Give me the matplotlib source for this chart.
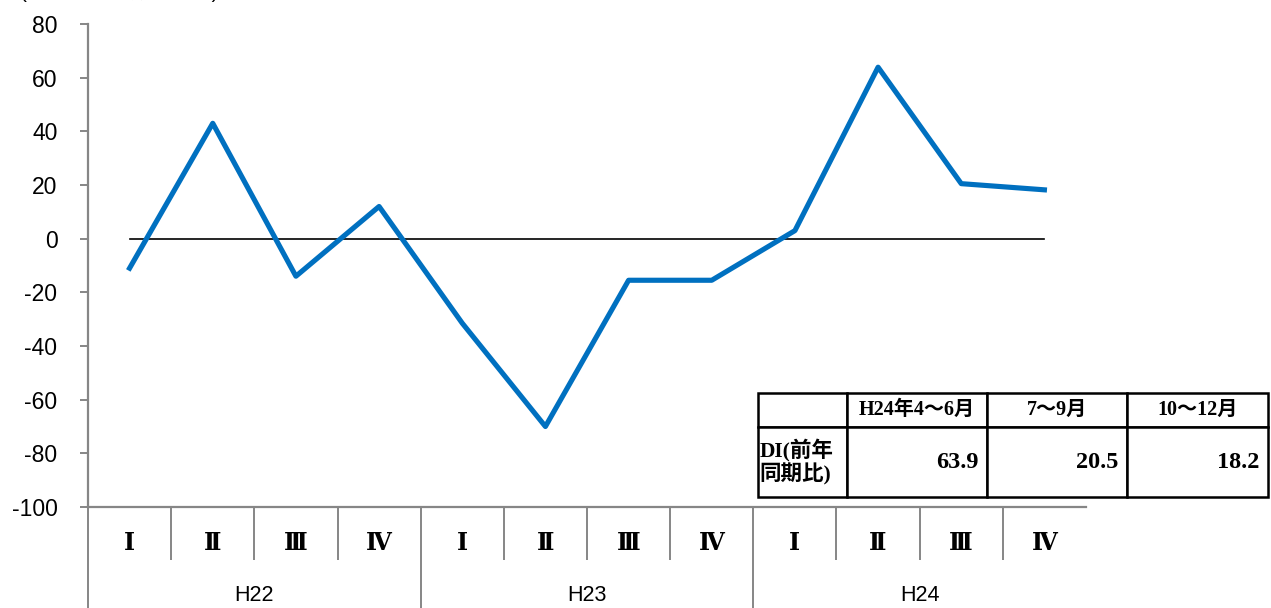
"""
Quarterly DI (year-on-year) line chart with a two-level category axis
(quarters / fiscal years) and a small summary table in the lower right.
"""

import matplotlib
matplotlib.use("Agg")
import matplotlib.pyplot as plt
from matplotlib.table import Table

# ---------------------------------------------------------------------------
# Data
# ---------------------------------------------------------------------------
quarters = ["Ⅰ", "Ⅱ", "Ⅲ", "Ⅳ"] * 3
years = ["H22", "H23", "H24"]
di_values = [-11.0, 43.0, -14.0, 12.0, -31.5, -70.0, -15.5, -15.5, 3.0, 63.9, 20.5, 18.2]

table_header = ["", "H24年4～6月", "7～9月", "10～12月"]
table_row_label = "DI(前年\n同期比)"
table_values = ["63.9", "20.5", "18.2"]

unit_label = "(DI、前年同期比、%)"

# ---------------------------------------------------------------------------
# Styling
# ---------------------------------------------------------------------------
LINE_BLUE = "#0070C0"
AXIS_GRAY = "#868686"
W, H = 1271, 608

plt.rcParams["font.family"] = ["Liberation Sans", "Noto Sans CJK JP", "DejaVu Sans"]
plt.rcParams["axes.unicode_minus"] = False

fig = plt.figure(figsize=(W / 100, H / 100), dpi=100)
ax = fig.add_axes([88 / W, 101 / H, 998 / W, 483 / H])

n = len(di_values)
x = [i + 0.5 for i in range(n)]

# zero reference line and the DI series
ax.plot([x[0], x[-1]], [0, 0], color="black", lw=1.2, zorder=2)
ax.plot(x, di_values, color=LINE_BLUE, lw=3.7, zorder=3)

ax.set_xlim(0, n)
ax.set_ylim(-100, 80)

for side in ("top", "right"):
    ax.spines[side].set_visible(False)
for side in ("left", "bottom"):
    ax.spines[side].set_color(AXIS_GRAY)
    ax.spines[side].set_linewidth(1.6)

# y axis
ax.set_yticks(range(-100, 81, 20))
ax.tick_params(axis="y", direction="out", length=6, width=1.4, color=AXIS_GRAY,
               labelsize=16.5, pad=16, labelcolor="black")

# x axis, level 1: quarter separators + quarter labels
quarter_edges = [i for i in range(1, n) if i % 4 != 0]
ax.set_xticks(quarter_edges)
ax.set_xticklabels([])
ax.tick_params(axis="x", which="major", direction="out", length=38, width=1.4,
               color=AXIS_GRAY)
ax.set_xticks(x, minor=True)
ax.set_xticklabels(quarters, minor=True, fontsize=17,
                   family=["DejaVu Serif", "Noto Sans CJK JP"], fontweight="bold")
ax.tick_params(axis="x", which="minor", length=0, pad=17)

# x axis, level 2: year separators + year labels
sec = ax.secondary_xaxis("bottom")
sec.spines["bottom"].set_visible(False)
sec.set_xticks([0, 4, 8])
sec.set_xticklabels([])
sec.tick_params(axis="x", which="major", direction="out", length=74, width=1.4,
                color=AXIS_GRAY)
sec.set_xticks([2, 6, 10], minor=True)
sec.set_xticklabels(years, minor=True, fontsize=15.5)
sec.tick_params(axis="x", which="minor", length=0, pad=56)

# summary table (lower right, partly outside the plotting area)
col_px = [758, 847, 987, 1127, 1268]
row_px = [393, 427, 497]
tx0 = (col_px[0] - 88) / 998
ty0 = (507 - row_px[-1]) / 483
tw = (col_px[-1] - col_px[0]) / 998
th = (row_px[-1] - row_px[0]) / 483

tbl = Table(ax, bbox=[tx0, ty0, tw, th])
tbl.auto_set_font_size(False)
col_w = [(col_px[i + 1] - col_px[i]) / (col_px[-1] - col_px[0]) for i in range(4)]
row_h = [(row_px[i + 1] - row_px[i]) / (row_px[-1] - row_px[0]) for i in range(2)]
table_font = ["Liberation Serif", "Noto Sans CJK JP"]

for c, label in enumerate(table_header):
    cell = tbl.add_cell(0, c, col_w[c], row_h[0], text=label, loc="center")
    cell.get_text().set_fontsize(14.5)
for c in range(4):
    if c == 0:
        cell = tbl.add_cell(1, c, col_w[c], row_h[1], text=table_row_label, loc="left")
        cell.PAD = 0.02
        cell.get_text().set_fontsize(15.5)
        cell.get_text().set_linespacing(1.1)
    else:
        cell = tbl.add_cell(1, c, col_w[c], row_h[1], text=table_values[c - 1], loc="right")
        cell.PAD = 0.06
        cell.get_text().set_fontsize(17.5)

for cell in tbl.get_celld().values():
    cell.set_edgecolor("black")
    cell.set_linewidth(1.8)
    cell.set_facecolor("white")
    cell.get_text().set_family(table_font)
    cell.get_text().set_fontweight("bold")
tbl.set_clip_on(False)
tbl.set_zorder(5)
ax.add_table(tbl)

# unit label at the very top (clipped by the figure edge, as in the original)
fig.text(20 / W, 1 + 2 / H, unit_label, fontsize=15, va="baseline", ha="left")

fig.savefig("out.png", dpi=100)
